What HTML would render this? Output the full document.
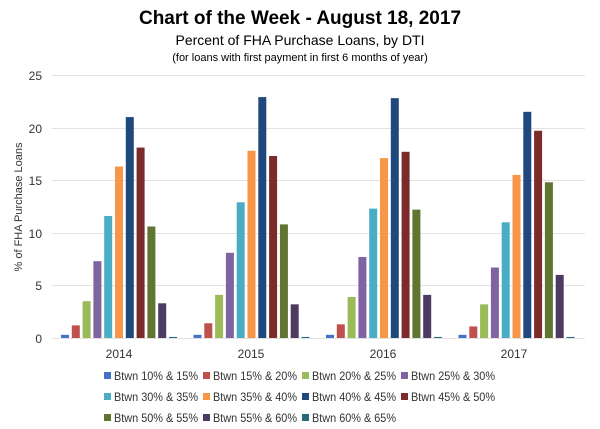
<!DOCTYPE html>
<html><head><style>body{margin:0;background:#fff;}svg{display:block;font-family:"Liberation Sans",sans-serif;}</style></head>
<body>
<svg width="600" height="429" xmlns="http://www.w3.org/2000/svg">
<text x="300" y="24" text-anchor="middle" font-size="19" font-weight="bold" fill="#000">Chart of the Week - August 18, 2017</text>
<text x="300" y="45" text-anchor="middle" font-size="14" fill="#000">Percent of FHA Purchase Loans, by DTI</text>
<text x="300" y="61" text-anchor="middle" font-size="11" fill="#000">(for loans with first payment in first 6 months of year)</text>
<g stroke="#e3e3e3" stroke-width="1">
<line x1="52" x2="585" y1="75.5" y2="75.5"/><line x1="52" x2="585" y1="128.5" y2="128.5"/><line x1="52" x2="585" y1="180.5" y2="180.5"/><line x1="52" x2="585" y1="233.5" y2="233.5"/><line x1="52" x2="585" y1="285.5" y2="285.5"/><line x1="52" x2="585" y1="338.5" y2="338.5"/>
</g>
<g font-size="12" fill="#333" text-anchor="end">
<text x="42" y="80">25</text><text x="42" y="133">20</text><text x="42" y="185">15</text><text x="42" y="238">10</text><text x="42" y="290">5</text><text x="42" y="343">0</text>
</g>
<text transform="translate(22,207) rotate(-90)" text-anchor="middle" font-size="11" fill="#333">% of FHA Purchase Loans</text>
<g id="bars"></g>
<g font-size="12" fill="#333" text-anchor="middle">
<text x="119" y="358">2014</text><text x="251" y="358">2015</text><text x="383" y="358">2016</text><text x="514" y="358">2017</text>
</g>
<g id="leg" font-size="12" fill="#333"></g>
<script>
var cols=["#4472C4","#C0504D","#9BBB59","#8064A2","#4BACC6","#F79646","#1F497D","#7B2C2A","#5F7530","#4D3B62","#276A7C"];
var data=[[0.3,1.2,3.5,7.3,11.6,16.3,21.0,18.1,10.6,3.3,0.1],[0.3,1.4,4.1,8.1,12.9,17.8,22.9,17.3,10.8,3.2,0.1],[0.3,1.3,3.9,7.7,12.3,17.1,22.8,17.7,12.2,4.1,0.1],[0.3,1.1,3.2,6.7,11.0,15.5,21.5,19.7,14.8,6.0,0.1]];
var ns="http://www.w3.org/2000/svg",g=document.getElementById("bars");
for(var i=0;i<4;i++)for(var j=0;j<11;j++){var v=data[i][j],h=v*10.52,r=document.createElementNS(ns,"rect");
var x=61+i*132.5+j*10.8;r.setAttribute("x",x);r.setAttribute("width",8);r.setAttribute("y",338-h);r.setAttribute("height",h);r.setAttribute("fill",cols[j]);g.appendChild(r);}
var labs=["10% & 15%","15% & 20%","20% & 25%","25% & 30%","30% & 35%","35% & 40%","40% & 45%","45% & 50%","50% & 55%","55% & 60%","60% & 65%"];
var L=document.getElementById("leg"),cx=[104,203,302,401];
for(var k=0;k<11;k++){var c=k%4,rw=Math.floor(k/4),y=377+rw*21;
var r=document.createElementNS(ns,"rect");r.setAttribute("x",cx[c]);r.setAttribute("y",y-5);r.setAttribute("width",7);r.setAttribute("height",7);r.setAttribute("fill",cols[k]);L.appendChild(r);
var t=document.createElementNS(ns,"text");t.setAttribute("x",cx[c]+10);t.setAttribute("y",y+3);t.setAttribute("textLength","84");t.setAttribute("lengthAdjust","spacingAndGlyphs");t.textContent="Btwn "+labs[k];L.appendChild(t);}
</script>
</svg>
</body></html>
